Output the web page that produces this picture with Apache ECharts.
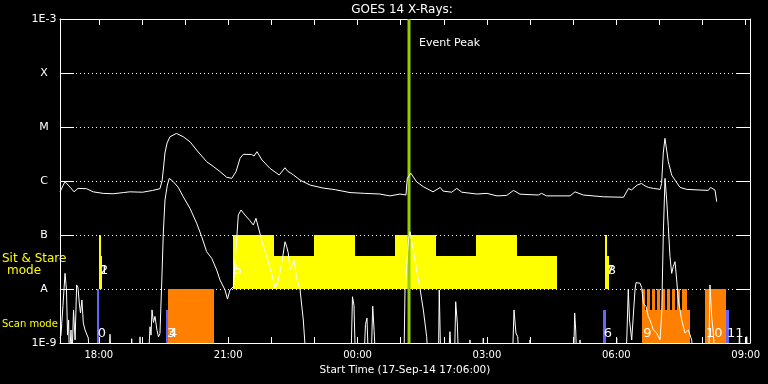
<!DOCTYPE html>
<html><head><meta charset="utf-8">
<script src="https://cdn.jsdelivr.net/npm/echarts@6/dist/echarts.min.js"></script>
<style>html,body{margin:0;padding:0;background:#000}#c{width:768px;height:384px}</style>
</head><body><div id="c"></div>
<script>
// ---------------- DATA ----------------
const startClock = '17:06';
const spanMinutes = 960;
const xTickLabels = ['18:00', '21:00', '00:00', '03:00', '06:00', '09:00'];
const yLevelLabels = ['1E-9', 'A', 'B', 'C', 'M', 'X', '1E-3'];
const BELOW = 5e-10; // below plot floor

// GOES 14 long channel (1-8 A)
const longTimes = ['17:06','17:10','17:13','17:15','17:20','17:25:30','17:31','17:43','17:52','18:06','18:20','18:34','18:43','19:01','19:15','19:25','19:28','19:30','19:32','19:35','19:39','19:48','19:57:30','20:07','20:16','20:30','20:39','20:48:30','20:58','21:05','21:11','21:16:30','21:21','21:32:40','21:36','21:40','21:47','21:58','22:11','22:19','22:23','22:26','22:31','22:40','22:54','23:12','23:29','23:49:30','00:10','00:31','00:45','00:59','01:07:20','01:09:10','01:14','01:22','01:31:30','01:45','01:55','01:59','02:11','02:18','02:25','02:46','03:00','03:14','03:27:30','03:37','03:46','04:11:30','04:16','04:23','04:55:40','05:02:30','05:14','05:42','06:10','06:17','06:21','06:29','06:35','06:40','06:44:30','06:51:30','07:01','07:03','07:05:20','07:07:40','07:10','07:12:20','07:17','07:21:40','07:24','07:28:40','07:38','07:56:30','08:08','08:11','08:17:20','08:19:40'];
const longFlux = [6.3e-7,8.1e-7,9.7e-7,9.6e-7,7.7e-7,6.3e-7,7.3e-7,7.2e-7,6.3e-7,5.9e-7,5.8e-7,6.1e-7,6.3e-7,6.2e-7,6.7e-7,7.2e-7,1.0e-6,1.74e-6,3.3e-6,5.06e-6,6.6e-6,7.6e-6,6.6e-6,5.3e-6,3.75e-6,2.28e-6,1.87e-6,1.5e-6,1.17e-6,1.12e-6,1.5e-6,2.63e-6,3.12e-6,3.1e-6,2.9e-6,3.49e-6,2.45e-6,1.72e-6,1.29e-6,1.76e-6,1.5e-6,1.43e-6,1.29e-6,1.04e-6,8.4e-7,7.4e-7,6.9e-7,6.1e-7,5.9e-7,5.74e-7,5.3e-7,5.74e-7,5.5e-7,1.12e-6,1.4e-6,9.7e-7,7.84e-7,6.3e-7,7.6e-7,6.5e-7,6.2e-7,7.3e-7,6.2e-7,5.74e-7,5.9e-7,5.3e-7,5.4e-7,6.7e-7,5.7e-7,5.5e-7,5.9e-7,5.3e-7,5.3e-7,6.3e-7,5.5e-7,5.1e-7,5.0e-7,7.3e-7,6.8e-7,8.4e-7,9.0e-7,8.1e-7,7.6e-7,7.3e-7,7.0e-7,9.0e-7,3.3e-6,6.18e-6,5.9e-6,2.28e-6,1.29e-6,1.04e-6,1.08e-6,7.6e-7,7.0e-7,6.8e-7,6.7e-7,7.6e-7,6.8e-7,4.14e-7];

// GOES 14 short channel (0.5-4 A)
const shortTimes = ['17:06','17:07:20','17:10:10','17:13','17:15','17:16:30','17:18','17:19','17:21:20','17:22:40','17:24:50','17:27','17:29:10','17:31','17:32:50','17:34:30','17:36:30','17:38:25','17:40:50','17:45:20','17:47','18:14','18:15:35','18:17','18:45','18:45:45','18:46:30','18:56:40','18:57:20','18:58','19:09','19:11:15','19:12:40','19:14','19:16','19:18:10','19:21','19:23','19:25:05','19:27:30','19:29:45','19:32:05','19:35:20','19:38:05','19:43:40','19:50:35','19:57:30','20:06:50','20:16:10','20:23:10','20:30:05','20:37:05','20:44','20:48:35','20:55:35','20:59','21:02:30','21:07:10','21:10:50','21:14:05','21:17:50','21:23:25','21:30:20','21:35','21:38:40','21:41:05','21:46:40','21:53:35','22:00:35','22:05:10','22:09:45','22:14:30','22:19:05','22:21:25','22:23:40','22:26','22:28:20','22:31:35','22:35:20','22:40','22:44:30','22:48:15','23:50:55','23:52:55','23:55','23:57','00:09','00:11','00:13:05','00:15','00:19','00:21:05','00:23','00:25','01:04:35','01:06','01:08:20','01:10:50','01:13','01:17:35','01:22:15','01:26:50','01:31:30','01:36:10','01:38','01:52:35','01:53:40','01:55:40','02:06:30','02:08:35','02:10:30','02:14:55','02:16:30','02:18:45','02:20:30','02:35:40','02:36:25','02:37:10','02:53:50','02:54:55','02:56','03:35:30','03:37:40','03:40:20','03:42:50','03:44:40','03:59','03:59:55','04:01','05:00:40','05:02:05','05:03:30','05:04:50','05:08:50','05:09:30','05:10:10','05:59:35','06:00:30','06:01:30','06:13:30','06:14:50','06:16:40','06:18:20','06:21:25','06:23:15','06:26','06:27:25','06:29:45','06:33','06:35:20','06:37:35','06:41:25','06:44:30','06:46:55','06:51:30','06:56:10','07:00:50','07:03:10','07:05:25','07:07:45','07:10:05','07:12:20','07:14:40','07:17','07:19:15','07:21:40','07:24','07:26:15','07:30:55','07:35:35','07:40:10','07:44:55','07:46:40','08:08:40','08:10:20','08:12:40','08:14:55','08:17:20','08:50','08:51:25','08:52:30','09:00:30','09:01:25','09:02:30'];
const shortFlux = [1.24e-9,1.4e-9,5e-9,1.95e-8,9.6e-9,1.4e-9,2.67e-9,BELOW,1.74e-9,BELOW,4.1e-9,1.14e-9,1.19e-8,1.05e-8,5.5e-9,3.6e-9,6.25e-9,2.35e-9,1.74e-9,1.24e-9,BELOW,BELOW,1.45e-9,BELOW,BELOW,1.2e-9,BELOW,BELOW,1.3e-9,BELOW,BELOW,2.0e-9,1.4e-9,4.1e-9,2.4e-9,3.1e-9,1.7e-9,1.3e-9,1.5e-9,1.28e-8,1.09e-7,4.45e-7,8.4e-7,1.12e-6,9.7e-7,7.6e-7,5.1e-7,3.12e-7,1.65e-7,9.3e-8,4.9e-8,3.7e-8,2.25e-8,1.47e-8,9.6e-9,6.5e-9,9.6e-9,1.1e-8,5.3e-8,2.34e-7,2.9e-7,2.34e-7,1.84e-7,1.53e-7,2.04e-7,1.53e-7,8.1e-8,4.0e-8,1.95e-8,1.03e-8,1.47e-8,3.0e-8,7.5e-8,6.1e-8,4.6e-8,2.25e-8,2.1e-8,3.45e-8,1.58e-8,9.6e-9,2.67e-9,BELOW,BELOW,7.2e-9,5.0e-9,BELOW,BELOW,2.2e-9,2.9e-9,BELOW,BELOW,4.8e-9,1.7e-9,BELOW,BELOW,9.6e-9,2.6e-8,8.1e-8,1.15e-7,5.3e-8,2.25e-8,1.03e-8,4.1e-9,1.31e-9,BELOW,BELOW,9.6e-9,BELOW,BELOW,1.62e-9,BELOW,BELOW,5.8e-9,2.35e-9,BELOW,BELOW,1.14e-9,BELOW,BELOW,1.24e-9,BELOW,BELOW,4.1e-9,1.53e-9,1.31e-9,BELOW,BELOW,1.14e-9,BELOW,BELOW,3.6e-9,1.74e-9,BELOW,BELOW,1.14e-9,BELOW,BELOW,1.24e-9,BELOW,BELOW,1.53e-9,1.0e-8,2.67e-9,1.14e-9,2.67e-9,9.6e-9,1.31e-8,1.37e-8,1.28e-8,1.06e-8,5.5e-9,4.7e-9,3.07e-9,2.67e-9,1.74e-9,1.53e-9,1.14e-9,3.6e-9,1.09e-7,1.12e-6,4.45e-7,1.43e-7,4.0e-8,1.95e-8,2.6e-8,3.2e-8,1.47e-8,6.25e-9,2.67e-9,1.53e-9,1.74e-9,1.14e-9,BELOW,BELOW,1.19e-8,3.07e-9,1.53e-9,BELOW,BELOW,1.53e-9,BELOW,BELOW,1.31e-9,BELOW];

// IRIS observation blocks: start, end, base level, top level, mode
const obsStart = ['17:57','18:00:15','18:00:15','19:33:30','19:36:15','21:06:40','21:06:40','22:59:25','00:52:05','02:44:45','05:41:05','05:44:15','05:46:40','06:36:10','06:36:10','06:43:05','06:50:05','06:57:00','07:04:00','07:10:55','07:17:55','07:24:50','07:31:50','08:03:25','08:32:35'];
const obsEnd   = ['18:00:30','18:04','18:02:40','19:36:15','20:39:50','04:37:30','22:03:45','23:56:25','01:49:10','03:41:50','05:45:15','05:46:40','05:48:50','07:42:30','06:40:20','06:47:15','06:54:15','07:01:10','07:08:10','07:15:05','07:22:05','07:29:00','07:38:50','08:32:35','08:36:25'];
const obsBase  = [1e-9,1e-8,1e-8,1e-9,1e-9,1e-8,1e-8,1e-8,1e-8,1e-8,1e-9,1e-8,1e-8,1e-9,1e-9,1e-9,1e-9,1e-9,1e-9,1e-9,1e-9,1e-9,1e-9,1e-9,1e-9];
const obsTop   = [1e-8,4.1e-8,1e-7,4.1e-9,1e-8,4.1e-8,1e-7,1e-7,1e-7,1e-7,4.1e-9,1e-7,4.1e-8,4.1e-9,1e-8,1e-8,1e-8,1e-8,1e-8,1e-8,1e-8,1e-8,1e-8,1e-8,4.1e-9];
const obsMode  = ['cal','stare','stare','cal','scan','stare','stare','stare','stare','stare','cal','stare','stare','scan','scan','scan','scan','scan','scan','scan','scan','scan','scan','scan','cal'];

// observation number labels
const obsLabelText = ['0','1','2','3','4','5','6','7','8','9','10','11'];
const obsLabelTime = ['17:57','18:00:15','18:00:15','19:33:30','19:36:15','21:06:40','05:41:05','05:44:15','05:46:40','06:36:10','08:03:25','08:32:35'];
const obsLabelLevel = [1.5e-9,2.2e-8,2.2e-8,1.5e-9,1.5e-9,2.2e-8,1.5e-9,2.2e-8,2.2e-8,1.5e-9,1.5e-9,1.5e-9];

const eventPeakTime = '01:11:35';

// ---------------- HELPERS / STYLE ----------------
const modeColor = { cal: '#6464ff', stare: '#ffff00', scan: '#ff8000' };
const FONT = 'DejaVu Sans';
function toMin(s) {
  const p = s.split(':').map(Number);
  const st = startClock.split(':').map(Number);
  let m = p[0] * 60 + p[1] + (p[2] || 0) / 60 - (st[0] * 60 + st[1]);
  if (m < 0) m += 1440;
  return m;
}
const Y_MIN = 1e-9, Y_MAX = 1e-3;
const labelVals = xTickLabels.map(toMin);
const hourTicks = [];
for (let m = toMin('18:00'); m <= spanMinutes; m += 60) hourTicks.push(m);

const longData = longTimes.map((t, i) => [toMin(t), longFlux[i]]);
const shortData = shortTimes.map((t, i) => [toMin(t), shortFlux[i]]);
const obsData = obsStart.map((s, i) => [toMin(s), toMin(obsEnd[i]), obsBase[i], obsTop[i]]);
const labelData = obsLabelTime.map((t, i) => [toMin(t), obsLabelLevel[i]]);

const chart = echarts.init(document.getElementById('c'), null, { renderer: 'canvas' });

const baseX = {
  type: 'value', min: 0, max: spanMinutes,
  axisLine: { show: true, onZero: false, lineStyle: { color: '#fff', width: 1 } },
  axisTick: { show: true, inside: true, length: 6, customValues: hourTicks, lineStyle: { color: '#fff' } },
  splitLine: { show: false }
};
const baseY = {
  type: 'log', logBase: 10, min: Y_MIN, max: Y_MAX,
  axisLine: { show: true, onZero: false, lineStyle: { color: '#fff', width: 1 } },
  axisTick: { show: true, inside: true, length: 14, lineStyle: { color: '#fff' } },
  minorTick: { show: false }
};

chart.setOption({
  animation: false,
  backgroundColor: '#000',
  grid: { left: 60, right: 18, top: 19, bottom: 41, outerBoundsMode: 'none', containLabel: false },
  xAxis: [
    Object.assign({}, baseX, {
      position: 'bottom',
      axisLabel: { show: true, customValues: labelVals, color: '#fff', fontFamily: FONT, fontSize: 10, margin: 7,
        formatter: v => { const i = labelVals.findIndex(u => Math.abs(u - v) < 1e-6); return i >= 0 ? xTickLabels[i] : ''; } },
      name: 'Start Time (17-Sep-14 17:06:00)', nameLocation: 'middle', nameGap: 18,
      nameTextStyle: { color: '#fff', fontFamily: FONT, fontSize: 10.5 }
    }),
    Object.assign({}, baseX, { position: 'top', axisLabel: { show: false } })
  ],
  yAxis: [
    Object.assign({}, baseY, {
      position: 'left',
      axisLabel: { show: true, color: '#fff', fontFamily: FONT, fontSize: 11, align: 'center', margin: 16,
        formatter: v => yLevelLabels[Math.round(Math.log10(v)) + 9] },
      splitLine: { show: true, lineStyle: { color: '#fff', width: 1, type: [1, 3] } }
    }),
    Object.assign({}, baseY, { position: 'right', axisLabel: { show: false }, splitLine: { show: false } })
  ],
  graphic: [
    { type: 'text', x: 402, y: 10, style: { text: 'GOES 14 X-Rays:', fill: '#fff', font: '12px ' + FONT, textAlign: 'center', textVerticalAlign: 'middle', align: 'center', verticalAlign: 'middle' } },
    { type: 'text', x: 2, y: 259, style: { text: 'Sit & Stare', fill: '#ffff00', font: '12px ' + FONT, textAlign: 'left', textVerticalAlign: 'middle', align: 'left', verticalAlign: 'middle' } },
    { type: 'text', x: 24, y: 271, style: { text: 'mode', fill: '#ffff00', font: '12px ' + FONT, textAlign: 'center', textVerticalAlign: 'middle', align: 'center', verticalAlign: 'middle' } },
    { type: 'text', x: 2, y: 324, style: { text: 'Scan mode', fill: '#ffff00', font: '10px ' + FONT, textAlign: 'left', textVerticalAlign: 'middle', align: 'left', verticalAlign: 'middle' } }
  ],
  series: [
    {
      type: 'custom', name: 'obs', xAxisIndex: 0, yAxisIndex: 0, z: 2,
      data: obsData, encode: { x: [0, 1], y: [2, 3] }, clip: true,
      renderItem: (params, api) => {
        const p0 = api.coord([api.value(0), api.value(2)]);
        const p1 = api.coord([api.value(1), api.value(3)]);
        const x0 = Math.round(p0[0]);
        const x1 = Math.max(Math.round(p1[0]), x0 + 2);
        const yTop = Math.round(p1[1]);
        return { type: 'rect', shape: { x: x0, y: yTop, width: x1 - x0, height: Math.round(p0[1]) - yTop },
          style: { fill: modeColor[obsMode[params.dataIndex]] } };
      }
    },
    {
      type: 'custom', name: 'event', xAxisIndex: 0, yAxisIndex: 0, z: 3,
      data: [[toMin(eventPeakTime), Y_MAX]], encode: { x: 0, y: 1 },
      renderItem: (params, api) => {
        const top = api.coord([api.value(0), Y_MAX]);
        const bot = api.coord([api.value(0), Y_MIN]);
        return { type: 'group', children: [
          { type: 'line', shape: { x1: top[0], y1: top[1], x2: bot[0], y2: bot[1] }, style: { stroke: '#99cc00', lineWidth: 3 } },
          { type: 'text', x: top[0] + 10, y: top[1] + 24, style: { text: 'Event Peak', fill: '#fff', font: '11px ' + FONT, textAlign: 'left', textVerticalAlign: 'middle', align: 'left', verticalAlign: 'middle' } }
        ] };
      }
    },
    {
      type: 'line', name: 'long', data: longData, xAxisIndex: 0, yAxisIndex: 0, z: 4,
      showSymbol: false, symbol: 'none', clip: true, lineStyle: { color: '#fff', width: 1 }
    },
    {
      type: 'line', name: 'short', data: shortData, xAxisIndex: 0, yAxisIndex: 0, z: 4,
      showSymbol: false, symbol: 'none', clip: true, lineStyle: { color: '#fff', width: 1 }
    },
    {
      type: 'custom', name: 'obsLabels', xAxisIndex: 0, yAxisIndex: 0, z: 5,
      data: labelData, encode: { x: 0, y: 1 },
      renderItem: (params, api) => {
        const p = api.coord([api.value(0), api.value(1)]);
        return { type: 'text', x: p[0] + 1, y: p[1], style: { text: obsLabelText[params.dataIndex], fill: '#fff', font: '13px ' + FONT, textAlign: 'left', textVerticalAlign: 'middle', align: 'left', verticalAlign: 'middle' } };
      }
    }
  ]
});
</script>
</body></html>
